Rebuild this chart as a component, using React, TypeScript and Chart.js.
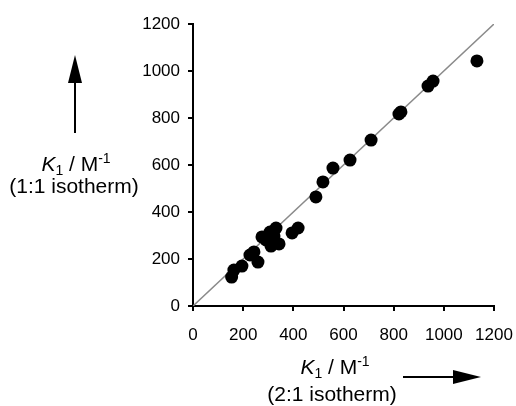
import React, { useEffect, useRef } from "react";
import { Chart, registerables } from "chart.js";

Chart.register(...registerables);

// K1 from 2:1 isotherm (x) vs K1 from 1:1 isotherm (y), M^-1
const xValues = [154, 163, 195, 227, 243, 259, 275, 291, 307, 331, 311, 343, 323, 395, 419, 490, 518, 558, 626, 710, 821, 829, 937, 957, 1132];
const yValues = [123, 153, 170, 217, 230, 187, 294, 281, 315, 332, 255, 264, 298, 311, 332, 464, 528, 587, 621, 706, 817, 826, 936, 957, 1043];
const identityLine = [0, 1200];
const tickValues = [0, 200, 400, 600, 800, 1000, 1200];

const FONT = '"Liberation Sans", Arial, Helvetica, sans-serif';

function drawKLabel(ctx: CanvasRenderingContext2D, cx: number, baseline: number) {
  const big = 21;
  const small = 14;
  const parts = [
    { t: "K", f: `italic ${big}px ${FONT}`, dy: 0 },
    { t: "1", f: `${small}px ${FONT}`, dy: 4 },
    { t: " / M", f: `${big}px ${FONT}`, dy: 0 },
    { t: "-1", f: `${small}px ${FONT}`, dy: -8 },
  ];
  let total = 0;
  const widths: number[] = [];
  for (const p of parts) {
    ctx.font = p.f;
    const w = ctx.measureText(p.t).width;
    widths.push(w);
    total += w;
  }
  let x = cx - total / 2;
  ctx.textAlign = "left";
  ctx.textBaseline = "alphabetic";
  parts.forEach((p, i) => {
    ctx.font = p.f;
    ctx.fillText(p.t, x, baseline + p.dy);
    x += widths[i];
  });
}

const titlesPlugin = {
  id: "titles",
  afterDraw(chart: Chart) {
    const ctx = chart.ctx;
    ctx.save();
    ctx.fillStyle = "#000";
    ctx.strokeStyle = "#000";
    // x title
    drawKLabel(ctx, 335, 374);
    ctx.font = `21px ${FONT}`;
    ctx.textAlign = "center";
    ctx.textBaseline = "alphabetic";
    ctx.fillText("(2:1 isotherm)", 332, 401);
    // x arrow
    ctx.lineWidth = 2;
    ctx.beginPath();
    ctx.moveTo(403, 377);
    ctx.lineTo(455, 377);
    ctx.stroke();
    ctx.beginPath();
    ctx.moveTo(481, 377);
    ctx.lineTo(453, 370);
    ctx.lineTo(453, 384);
    ctx.closePath();
    ctx.fill();
    // y title
    drawKLabel(ctx, 76, 171);
    ctx.font = `21px ${FONT}`;
    ctx.textAlign = "center";
    ctx.fillText("(1:1 isotherm)", 74, 193);
    // y arrow
    ctx.beginPath();
    ctx.moveTo(75, 133);
    ctx.lineTo(75, 81);
    ctx.stroke();
    ctx.beginPath();
    ctx.moveTo(75, 55);
    ctx.lineTo(68, 83);
    ctx.lineTo(82, 83);
    ctx.closePath();
    ctx.fill();
    ctx.restore();
  },
};

export default function App() {
  const ref = useRef<HTMLCanvasElement>(null);
  useEffect(() => {
    document.body.style.margin = "0";
    const points = xValues.map((x, i) => ({ x, y: yValues[i] }));
    const line = identityLine.map((v) => ({ x: v, y: v }));
    const axisCommon = (isX: boolean) => ({
      type: "linear" as const,
      min: tickValues[0],
      max: tickValues[tickValues.length - 1],
      afterBuildTicks: (scale: any) => {
        scale.ticks = tickValues.map((v) => ({ value: v }));
      },
      afterFit: (scale: any) => {
        if (isX) {
          scale.height = 100;
          scale.paddingLeft = 0;
          scale.paddingRight = 0;
        } else {
          scale.width = 193;
          scale.paddingTop = 0;
          scale.paddingBottom = 0;
        }
      },
      grid: {
        display: true,
        drawOnChartArea: false,
        drawTicks: true,
        tickLength: 5,
        color: "#000",
        lineWidth: 2,
      },
      border: { display: true, color: "#000", width: 2 },
      ticks: {
        color: "#000",
        font: { family: FONT, size: 17 },
        padding: isX ? 14 : 8,
        maxRotation: 0,
        autoSkip: false,
        callback: (v: number) => String(v),
      },
    });
    const chart = new Chart(ref.current!, {
      type: "scatter",
      data: {
        datasets: [
          {
            type: "line",
            data: line,
            borderColor: "#8a8a8a",
            borderWidth: 1.5,
            pointRadius: 0,
            order: 2,
          } as any,
          {
            data: points,
            backgroundColor: "#000",
            borderColor: "#000",
            pointRadius: 6.5,
            pointBorderWidth: 0,
            order: 1,
            clip: false,
          } as any,
        ],
      },
      options: {
        animation: false,
        responsive: false,
        maintainAspectRatio: false,
        layout: { padding: { left: 0, right: 22, top: 24, bottom: 0 } },
        plugins: { legend: { display: false }, tooltip: { enabled: false } },
        scales: { x: axisCommon(true), y: axisCommon(false) } as any,
      },
      plugins: [titlesPlugin],
    });
    return () => chart.destroy();
  }, []);
  return (
    <div style={{ width: 516, height: 406, position: "relative", background: "#fff" }}>
      <canvas ref={ref} width={516} height={406} style={{ width: 516, height: 406, display: "block" }} />
    </div>
  );
}
